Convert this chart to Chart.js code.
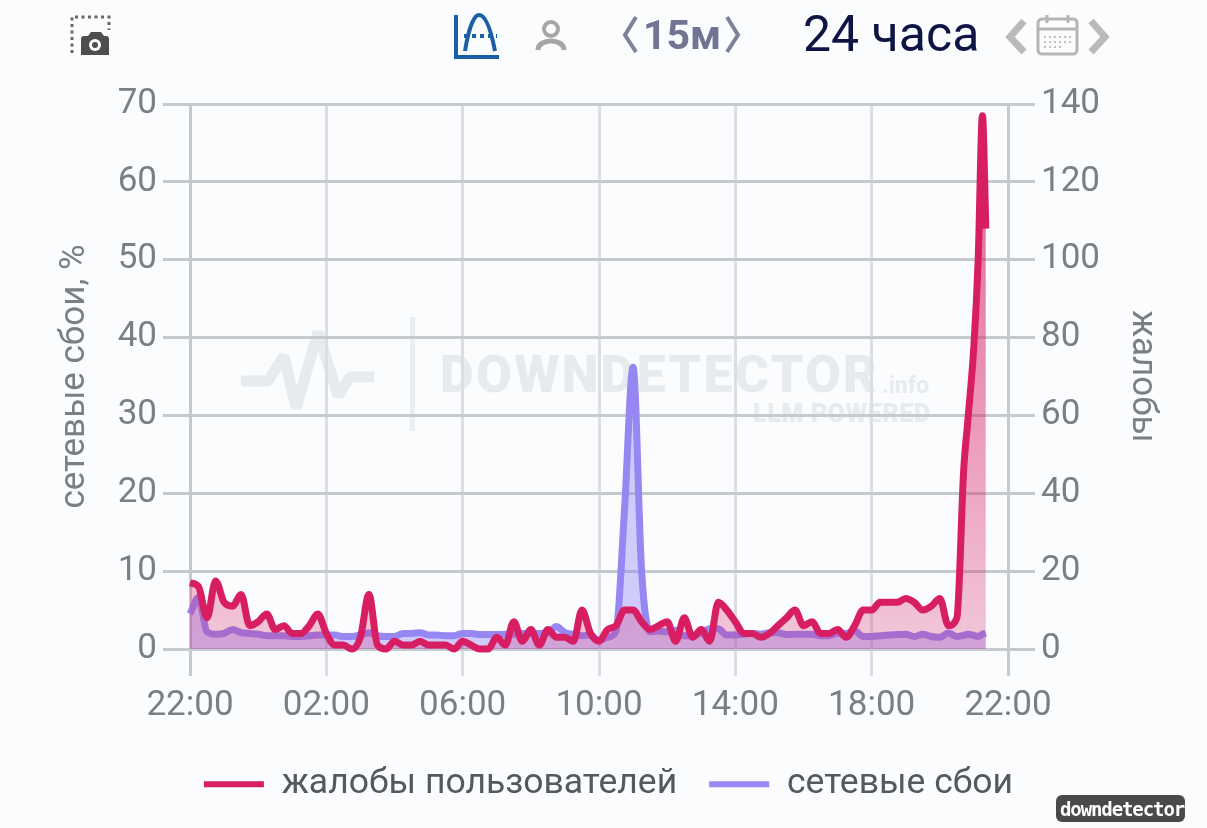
<!DOCTYPE html>
<html>
<head>
<meta charset="utf-8">
<title>downdetector</title>
<script src="https://cdn.jsdelivr.net/npm/chart.js@4"></script>
<style>
  html, body { margin: 0; padding: 0; background: #fbfcfe; }
  #page { position: relative; width: 1207px; height: 828px; overflow: hidden; font-family: Roboto, sans-serif; }
  #chartCanvas { position: absolute; left: 0; top: 0; }
  .txt { position: absolute; white-space: nowrap; line-height: 1; }
  #icons { position: absolute; left: 0; top: 0; }
</style>
</head>
<body>
<div id="page">
  <!-- watermark sits behind the canvas -->
  <svg id="icons" width="1207" height="828" viewBox="0 0 1207 828">
    <polyline points="241,381 268,381 284,356 296,408 318,332 338,396 350,377 374,377" fill="none" stroke="#e8ebee" stroke-width="11" stroke-linejoin="bevel"/>
    <rect x="410" y="317" width="5" height="114" fill="#e8eef2"/>
    <!-- screenshot icon -->
    <path d="M72 53 V17 H109 V30" fill="none" stroke="#666" stroke-width="3" stroke-dasharray="3 3.5"/>
    <path d="M81 55 a3 3 0 0 1 3-3 h4 l3-4 h10 l3 4 h2 a3 3 0 0 1 3 3 v16 h-28z" transform="translate(0,-16)" fill="#4e4e50"/>
    <circle cx="95" cy="45" r="6" fill="#fff"/><circle cx="95" cy="45" r="3" fill="#4e4e50"/>
    <!-- chart mode icon -->
    <path d="M456 15 V57 H499" fill="none" stroke="#1b5ea8" stroke-width="4"/>
    <path d="M465 51 C470 20 476 15 479 15 C483 15 489 20 495 51" fill="none" stroke="#1b5ea8" stroke-width="4"/>
    <path d="M464 36 H497" fill="none" stroke="#1b5ea8" stroke-width="4" stroke-dasharray="4 4"/>
    <!-- user icon -->
    <circle cx="551" cy="29" r="7" fill="none" stroke="#a4a6a8" stroke-width="4"/>
    <path d="M538 50 C538 38 564 38 564 50" fill="none" stroke="#a4a6a8" stroke-width="5"/>
    <!-- period chevrons -->
    <path d="M636 17 L625 35 L636 52" fill="none" stroke="#7d8299" stroke-width="4"/>
    <path d="M727 17 L738 35 L727 52" fill="none" stroke="#7d8299" stroke-width="4"/>
    <!-- calendar with arrows -->
    <path d="M1024 21 L1010 37 L1024 52" fill="none" stroke="#b9babc" stroke-width="7"/>
    <path d="M1091 21 L1105 37 L1091 52" fill="none" stroke="#b9babc" stroke-width="7"/>
    <rect x="1038" y="19" width="39" height="35" rx="4" fill="none" stroke="#b4b5b7" stroke-width="3"/>
    <path d="M1038 29 H1077 M1047 15 V23 M1068 15 V23" stroke="#b4b5b7" stroke-width="3"/>
    <path d="M1044 37 H1072 M1044 42 H1072 M1044 47 H1064" stroke="#c0c1c3" stroke-width="2" stroke-dasharray="2 3"/>
    <!-- badge -->
    <rect x="1056" y="795" width="129" height="27" rx="6" fill="#4a4a4a"/>
  </svg>
  <div class="txt" style="left:440px;top:349px;font-size:52px;font-weight:900;letter-spacing:2.3px;color:#e8ebee;">DOWNDETECTOR</div>
  <div class="txt" style="left:882px;top:374px;font-size:23px;font-weight:700;color:#e8ebee;">.info</div>
  <div class="txt" style="left:753px;top:401px;font-size:25px;font-weight:900;letter-spacing:.6px;color:#e8ebee;">LLM POWERED</div>
  <canvas id="chartCanvas" width="1207" height="828"></canvas>
  <div class="txt" style="left:643px;top:15px;font-size:41px;font-weight:700;color:#6f7593;">15м</div>
  <div class="txt" style="left:803px;top:9px;font-size:50px;color:#0e1545;">24 часа</div>
  <div class="txt" style="left:1060px;top:800px;font-size:19px;font-weight:700;color:#fff;font-family:'DejaVu Sans Mono',monospace;letter-spacing:-1.1px;">downdetector</div>
</div>
<script>
// x position of each sample, in 15 minute steps from 22:00
const samplePos = [
  0, 1, 2, 3, 4, 5, 6, 7, 8, 9, 10, 11, 12, 13, 14, 15, 16, 17, 18, 19,
  20, 21, 22, 23, 24, 25, 26, 27, 28, 29, 30, 31, 32, 33, 34, 35, 36, 37, 38, 39,
  40, 41, 42, 43, 44, 45, 46, 47, 48, 49, 50, 51, 52, 53, 54, 55, 56, 57, 58, 59,
  60, 61, 62, 63, 64, 65, 66, 67, 68, 69, 70, 71, 72, 73, 74, 75, 76, 77, 78, 79,
  80, 81, 82, 83, 84, 85, 86, 87, 88, 89, 90, 90.8, 91.3, 92, 92.5, 93, 93.4
];
const xTickLabels = ["22:00", "02:00", "06:00", "10:00", "14:00", "18:00", "22:00"];

// user reports, right axis
const complaints = [
  17, 16, 8, 17.5, 12, 11, 14, 6, 7, 9, 5, 6, 4, 4, 6, 9, 4, 1, 1, 0,
  3, 14, 1, 0, 2, 1, 1, 2, 1, 1, 1, 0, 2, 1, 0, 0, 3, 1, 7, 2,
  5, 1, 5, 3, 3, 2, 10, 4, 2, 5, 6, 10, 10, 7, 5, 6, 7, 2, 8, 3,
  5, 2, 12, 10, 7, 4, 4, 3, 4, 6, 8, 10, 6, 7, 4, 4, 5, 3, 6, 10,
  10, 12, 12, 12, 13, 12, 10, 11, 13, 6, 8, 46, 59, 78, 100, 137, 108
];
// network failures in percent, left axis
const networkFails = [
  4.5, 6.6, 2.2, 1.9, 2, 2.5, 2.1, 2, 1.9, 1.7, 1.7, 1.7, 1.6, 1.6, 1.7, 1.8, 1.8, 1.8, 1.6, 1.6,
  1.8, 2.1, 1.7, 1.6, 1.6, 2, 2, 2.1, 1.8, 1.8, 1.7, 1.7, 2, 2, 1.85, 1.85, 1.85, 1.9, 1.9, 2,
  2, 2, 2.1, 2.9, 2.1, 1.9, 1.7, 1.8, 1.1, 1.5, 2.3, 18, 36.2, 10, 2.2, 2.3, 2.2, 2.4, 1.7, 1.7,
  2.1, 2.6, 2.6, 1.8, 1.8, 1.9, 2, 1.9, 2.1, 2.1, 1.85, 1.9, 1.9, 1.9, 1.7, 1.7, 2, 2, 2.35, 1.6,
  1.6, 1.7, 1.8, 1.85, 1.9, 1.6, 1.9, 1.6, 1.5, 2.05, 1.6, 1.75, 1.9, 1.75, 1.6, 1.9, 2.05
];

const leftTicks = { min: 0, max: 70, step: 10 };
const rightTicks = { min: 0, max: 140, step: 20 };
const textGray = "#7b7e84";
const hLine = "#c6c9cd";
const vLine = "#dcdee2";

function toPoints(values) {
  return values.map((v, i) => ({ x: samplePos[i], y: v }));
}

function areaGradient(context, top, bottom) {
  const area = context.chart.chartArea;
  if (!area) return bottom;
  const g = context.chart.ctx.createLinearGradient(0, area.top, 0, area.bottom);
  g.addColorStop(0, top);
  g.addColorStop(1, bottom);
  return g;
}

new Chart(document.getElementById("chartCanvas"), {
  type: "line",
  data: {
    datasets: [
      {
        label: "жалобы пользователей",
        data: toPoints(complaints),
        yAxisID: "y2",
        borderColor: "#d81e63",
        borderWidth: 7,
        backgroundColor: (c) => areaGradient(c, "rgba(216,30,99,0.72)", "rgba(216,30,99,0.24)"),
        fill: "origin",
        pointRadius: 0,
        cubicInterpolationMode: "monotone",
        clip: 8,
      },
      {
        label: "сетевые сбои",
        data: toPoints(networkFails),
        yAxisID: "y",
        borderColor: "#9687f2",
        borderWidth: 7,
        backgroundColor: "rgba(130,120,250,0.36)",
        fill: "origin",
        pointRadius: 0,
        cubicInterpolationMode: "monotone",
        clip: 8,
      },
    ],
  },
  options: {
    responsive: false,
    animation: false,
    devicePixelRatio: 1,
    layout: { padding: { top: 104, bottom: 16, left: 10, right: 0 } },
    plugins: {
      tooltip: { enabled: false },
      legend: {
        position: "bottom",
        labels: {
          boxWidth: 60,
          boxHeight: 6,
          padding: 32,
          color: "#55585e",
          font: { family: "Roboto", size: 35.5 },
          generateLabels: (chart) =>
            chart.data.datasets.map((d, i) => ({
              text: d.label,
              fillStyle: d.borderColor,
              strokeStyle: d.borderColor,
              lineWidth: 0,
              datasetIndex: i,
              fontColor: "#55585e",
            })),
        },
      },
    },
    scales: {
      x: {
        type: "linear",
        min: 0,
        max: 96,
        afterFit: (scale) => { scale.height = 85.5; },
        border: { display: false },
        grid: {
          lineWidth: 3,
          tickLength: 27,
          color: (c) => (c.index === 0 || c.index === 6 ? hLine : vLine),
        },
        ticks: {
          stepSize: 16,
          maxRotation: 0,
          autoSkip: false,
          padding: 9,
          color: textGray,
          font: { family: "Roboto", size: 35 },
          callback: (value) => xTickLabels[value / 16],
        },
      },
      y: {
        position: "left",
        min: leftTicks.min,
        max: leftTicks.max,
        afterFit: (scale) => { scale.width = 180; },
        border: { display: false },
        grid: { lineWidth: 3, tickLength: 27, color: hLine },
        ticks: {
          stepSize: leftTicks.step,
          padding: 6,
          color: textGray,
          font: { family: "Roboto", size: 35 },
        },
        title: {
          display: true,
          text: "сетевые сбои, %",
          color: textGray,
          font: { family: "Roboto", size: 35 },
          padding: { top: 44, bottom: 0 },
        },
      },
      y2: {
        position: "right",
        min: rightTicks.min,
        max: rightTicks.max,
        afterFit: (scale) => { scale.width = 199; },
        border: { display: false },
        grid: { drawOnChartArea: false, lineWidth: 3, tickLength: 27, color: hLine },
        ticks: {
          stepSize: rightTicks.step,
          padding: 6,
          color: textGray,
          font: { family: "Roboto", size: 35 },
        },
        title: {
          display: true,
          text: "жалобы",
          color: textGray,
          font: { family: "Roboto", size: 35 },
          padding: { top: 44, bottom: 0 },
        },
      },
    },
  },
});
</script>
</body>
</html>
